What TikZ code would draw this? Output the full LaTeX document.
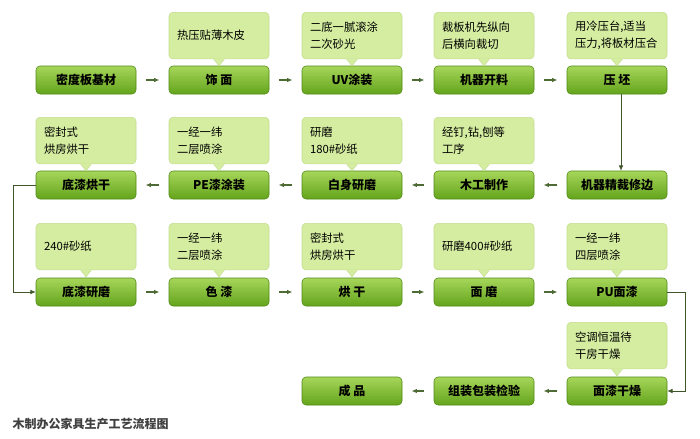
\documentclass[tikz,border=0pt]{standalone}
\usepackage{fontspec}
\setmainfont{Noto Sans CJK SC}
\usetikzlibrary{arrows.meta}
\definecolor{boxtop}{HTML}{A6D65A}
\definecolor{boxbot}{HTML}{64A41C}
\definecolor{boxedge}{HTML}{4F8A14}
\definecolor{callfill}{HTML}{D5EDA0}
\definecolor{calledge}{HTML}{C2DE8C}
\definecolor{arr}{HTML}{4F6B35}
\tikzset{
  stepbox/.style={draw=boxedge,rounded corners=3pt,top color=boxtop,bottom color=boxbot,
    minimum width=75pt,minimum height=21pt,font=\bfseries\fontsize{9}{10}\selectfont,inner sep=0pt},
  callout/.style={draw=calledge,fill=callfill,rounded corners=3pt,minimum width=75pt,minimum height=35pt,
    text width=63pt,align=left,font=\fontsize{8.5}{13}\selectfont,anchor=north,inner sep=4pt},
  flow/.style={draw=arr,line width=0.9pt,-{Latex[length=4pt,width=3.5pt]}},
  loop/.style={draw=arr!80!black,line width=0.6pt,-{Latex[length=4pt,width=3.5pt]}}
}
\newcommand{\callptr}[1]{\fill[callfill] ([xshift=-4pt,yshift=0.4pt]#1.south) -- ([yshift=-5pt]#1.south) -- ([xshift=4pt,yshift=0.4pt]#1.south) -- cycle;
  \draw[calledge] ([xshift=-4pt]#1.south) -- ([yshift=-5pt]#1.south) -- ([xshift=4pt]#1.south);}
\begin{document}
\begin{tikzpicture}[x=0.75pt,y=-0.75pt]
\useasboundingbox[fill=white] (0,0) rectangle (700,439);
% row 1
\node[stepbox] (a1) at (86,80) {密度板基材};
\node[stepbox] (a2) at (219,80) {饰\ 面};
\node[stepbox] (a3) at (352,80) {UV涂装};
\node[stepbox] (a4) at (484,80) {机器开料};
\node[stepbox] (a5) at (617,80) {压\ 坯};
% row 2
\node[stepbox] (b1) at (86,185) {底漆烘干};
\node[stepbox] (b2) at (219,185) {PE漆涂装};
\node[stepbox] (b3) at (352,185) {白身研磨};
\node[stepbox] (b4) at (484,185) {木工制作};
\node[stepbox] (b5) at (617,185) {机器精裁修边};
% row 3
\node[stepbox] (c1) at (86,292) {底漆研磨};
\node[stepbox] (c2) at (219,292) {色\ 漆};
\node[stepbox] (c3) at (352,292) {烘\ 干};
\node[stepbox] (c4) at (484,292) {面\ 磨};
\node[stepbox] (c5) at (617,292) {PU面漆};
% row 4
\node[stepbox] (d3) at (352,391) {成\ 品};
\node[stepbox] (d4) at (484,391) {组装包装检验};
\node[stepbox] (d5) at (617,391) {面漆干燥};
% callouts
\node[callout] (ka2) at (219,12) {热压贴薄木皮};
\node[callout] (ka3) at (352,12) {二底一腻滚涂\\二次砂光};
\node[callout] (ka4) at (484,12) {裁板机先纵向\\后横向裁切};
\node[callout] (ka5) at (617,12) {用冷压台,适当\\压力,将板材压合};
\node[callout] (kb1) at (86,117) {密封式\\烘房烘干};
\node[callout] (kb2) at (219,117) {一经一纬\\二层喷涂};
\node[callout] (kb3) at (352,117) {研磨\\180\#砂纸};
\node[callout] (kb4) at (484,117) {经钉,钻,刨等\\工序};
\node[callout] (kc1) at (86,223) {240\#砂纸};
\node[callout] (kc2) at (219,223) {一经一纬\\二层喷涂};
\node[callout] (kc3) at (352,223) {密封式\\烘房烘干};
\node[callout] (kc4) at (484,223) {研磨400\#砂纸};
\node[callout] (kc5) at (617,223) {一经一纬\\四层喷涂};
\node[callout] (kd5) at (617,322) {空调恒温待\\干房干燥};
\foreach \k in {ka2,ka3,ka4,ka5,kb1,kb2,kb3,kb4,kc1,kc2,kc3,kc4,kc5,kd5}{\callptr{\k}}
% flow arrows
\foreach \p/\q in {a1/a2,a2/a3,a3/a4,a4/a5,c1/c2,c2/c3,c3/c4,c4/c5}{
  \path[flow] ([xshift=7pt]\p.east) -- ([xshift=-7pt]\q.west);}
\foreach \p/\q in {b5/b4,b4/b3,b3/b2,b2/b1,d5/d4,d4/d3}{
  \path[flow] ([xshift=-7pt]\p.west) -- ([xshift=7pt]\q.east);}
\path[loop] ([xshift=3pt]a5.south) -- ([xshift=3pt]b5.north);
\path[loop] (b1.west) -- ++(-22,0) |- (c1.west);
\path[loop] (c5.east) -- ++(18,0) |- (d5.east);
\node[anchor=west,font=\bfseries\fontsize{9}{10}\selectfont,text=black!75] (title) at (8,424) {木制办公家具生产工艺流程图};
\end{tikzpicture}
\end{document}
